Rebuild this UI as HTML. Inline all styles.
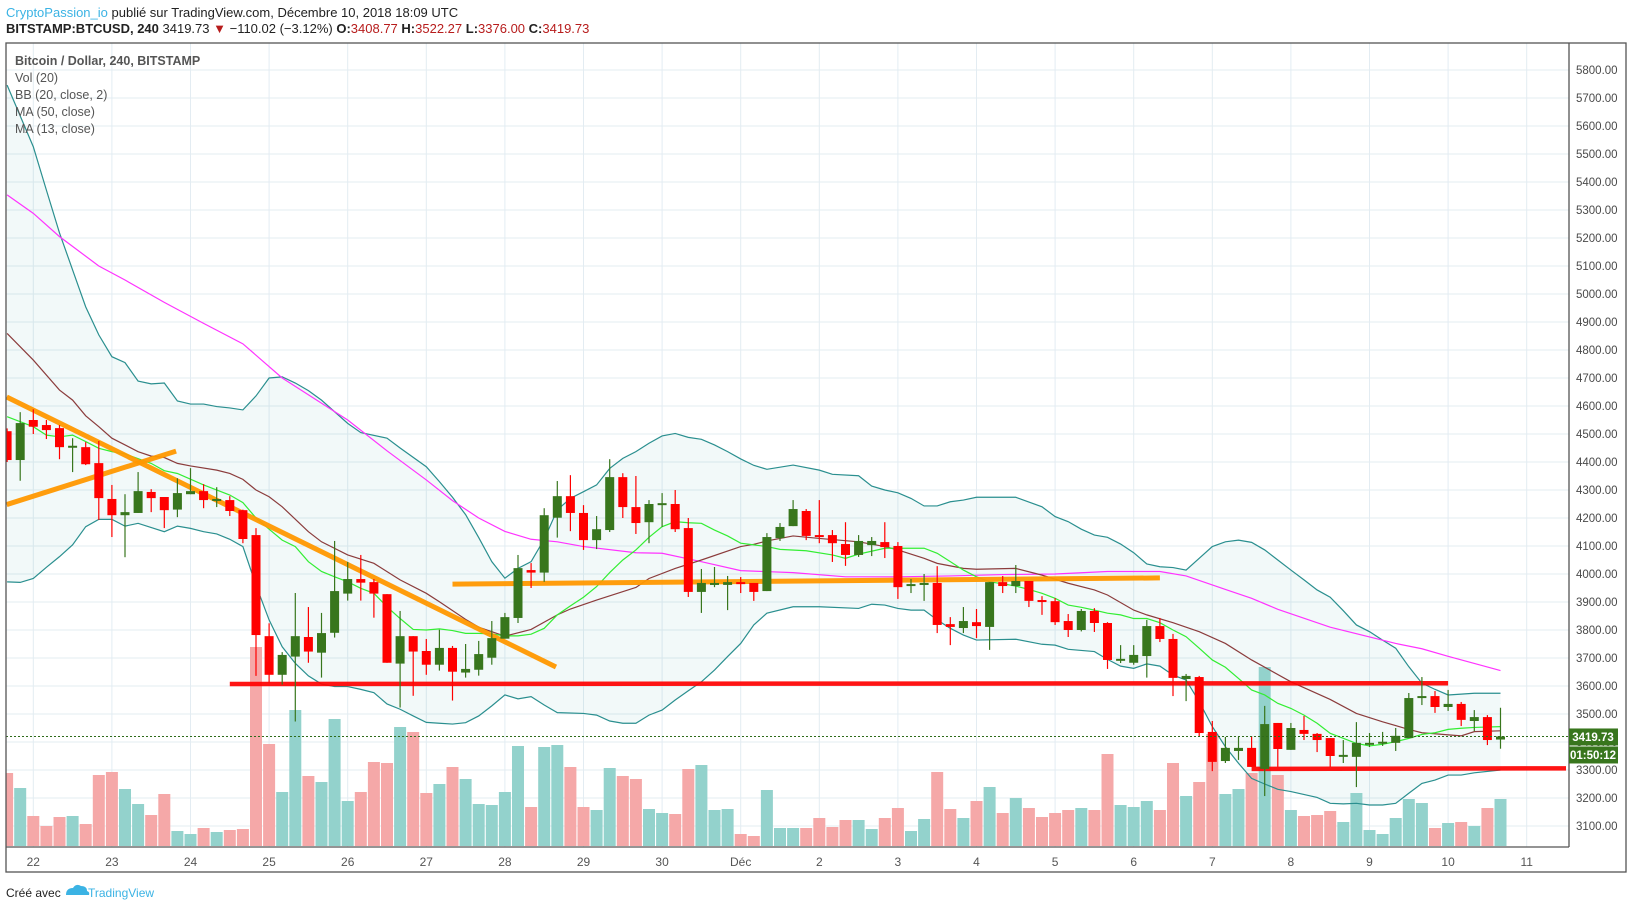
<!DOCTYPE html>
<html><head><meta charset="utf-8">
<style>
html,body{margin:0;padding:0;background:#fff;}
body{width:1627px;height:909px;overflow:hidden;position:relative;font-family:"Liberation Sans",sans-serif;}
.hdr{position:absolute;left:6px;font-size:13px;color:#222;white-space:nowrap;}
.red{color:#b71c1c;}
svg text{font-family:"Liberation Sans",sans-serif;}
</style></head>
<body>
<div class="hdr" style="top:5px"><span style="color:#3bb3e4">CryptoPassion_io</span> publié sur TradingView.com, Décembre 10, 2018 18:09 UTC</div>
<div class="hdr" style="top:21px"><b>BITSTAMP:BTCUSD, 240</b> 3419.73 <span style="color:#b71c1c">▼</span> −110.02 (−3.12%) <b>O:</b><span class="red">3408.77</span> <b>H:</b><span class="red">3522.27</span> <b>L:</b><span class="red">3376.00</span> <b>C:</b><span class="red">3419.73</span></div>

<svg id="chart" width="1627" height="909" style="position:absolute;left:0;top:0">
<defs><clipPath id="plotclip"><rect x="6" y="43" width="1563" height="804"/></clipPath></defs>
<g id="grid"></g>
<g id="plot" clip-path="url(#plotclip)"></g>
<rect x="6" y="43" width="1620" height="829" fill="none" stroke="#555" stroke-width="1.3"/>
<line x1="1569" y1="43" x2="1569" y2="847" stroke="#555" stroke-width="1.3"/>
<line x1="6" y1="847" x2="1569" y2="847" stroke="#555" stroke-width="1.3"/>
<g id="axes"></g>
<g font-size="12.5" fill="#555">
<text x="15" y="65" font-weight="bold">Bitcoin / Dollar, 240, BITSTAMP</text>
<text x="15" y="82">Vol (20)</text>
<text x="15" y="99">BB (20, close, 2)</text>
<text x="15" y="116">MA (50, close)</text>
<text x="15" y="133">MA (13, close)</text>
</g>
<g>
<text x="6" y="897" font-size="12" fill="#222">Créé avec</text>
<path d="M66 895 q0-7 7-7 q3-5 8-2 q6 0 6 5 q3 1 2 4 z" fill="#3bb3e4"/>
<text x="88" y="897" font-size="12" fill="#3bb3e4">TradingView</text>
</g>
</svg>

<script>
const startK = -2;
const opens = [4510,4407,4550,4532,4521,4455,4453,4396,4268,4210,4218,4293,4275,4230,4285,4296,4264,4264,4228,4139,3778,3640,3705,3775,3719,3790,3930,3982,3971,3928,3680,3778,3725,3676,3736,3648,3658,3701,3769,3843,4014,4005,4201,4278,4218,4121,4157,4346,4239,4185,4246,4250,4164,3936,3966,3961,3971,3968,3939,4128,4171,4225,4139,4139,4107,4068,4103,4114,4100,3957,3964,3968,3821,3807,3828,3811,3971,3957,3975,3907,3903,3832,3800,3868,3825,3691,3683,3707,3814,3768,3625,3632,3436,3332,3368,3379,3304,3468,3372,3443,3429,3414,3350,3347,3394,3397,3397,3414,3557,3564,3525,3536,3475,3489,3408.77];
const highs = [4520,4578,4588,4550,4532,4485,4471,4475,4318,4285,4364,4303,4275,4342,4378,4321,4310,4278,4230,4164,3824,3721,3932,3882,3861,4118,4043,4068,3982,3928,3868,3778,3768,3801,3743,3750,3761,3832,3861,4068,4039,4235,4332,4353,4246,4207,4410,4360,4350,4264,4289,4300,4200,4018,4025,3993,3989,3968,4146,4182,4264,4232,4264,4157,4185,4139,4132,4185,4114,3982,4000,4028,3846,3882,3875,3971,3993,4032,3975,3921,3914,3857,3875,3878,3828,3746,3746,3836,3843,3786,3643,3636,3475,3418,3418,3421,3529,3468,3468,3493,3432,3414,3407,3471,3432,3436,3450,3575,3632,3582,3586,3543,3514,3496,3522.27];
const lows = [4400,4333,4500,4482,4410,4364,4389,4193,4132,4060,4218,4221,4164,4203,4285,4235,4239,4207,4110,3636,3612,3605,3473,3683,3630,3773,3905,3905,3844,3683,3523,3565,3640,3655,3548,3630,3637,3676,3769,3825,3950,3972,4130,4153,4086,4089,4150,4200,4143,4110,4168,4150,3918,3861,3953,3871,3932,3904,3939,4118,4171,4121,4110,4043,4029,4061,4064,4057,3911,3932,3904,3789,3746,3789,3771,3729,3932,3932,3882,3854,3818,3775,3795,3793,3661,3682,3676,3630,3757,3564,3546,3418,3296,3325,3336,3311,3207,3311,3372,3407,3364,3311,3325,3239,3382,3386,3368,3414,3532,3504,3511,3457,3439,3389,3376];
const closes = [4407,4539,4526,4514,4453,4458,4392,4271,4210,4221,4296,4271,4228,4289,4296,4264,4268,4225,4125,3782,3640,3711,3778,3723,3789,3939,3982,3969,3930,3683,3778,3723,3676,3736,3651,3661,3714,3771,3846,4021,4005,4210,4278,4218,4121,4160,4346,4239,4182,4250,4253,4160,3936,3968,3968,3971,3964,3936,4132,4168,4232,4136,4136,4110,4068,4118,4118,4096,3953,3964,3968,3818,3811,3832,3814,3971,3957,3975,3904,3900,3828,3800,3868,3825,3693,3697,3711,3814,3768,3629,3636,3432,3329,3379,3379,3311,3464,3375,3450,3429,3407,3350,3354,3397,3397,3401,3422,3557,3564,3525,3536,3479,3489,3407,3419.73];
const volumes = [73,58,30,20,29,30,22,71,74,57,42,31,52,15,12,18,14,16,17,199,102,54,136,70,64,127,45,54,84,83,119,114,53,62,79,67,42,41,54,100,39,99,101,79,39,36,78,70,67,37,33,32,77,81,36,37,12,10,56,18,18,18,28,19,26,26,17,28,38,15,27,74,37,28,45,59,33,48,38,29,33,36,38,36,92,41,39,45,36,83,50,64,112,52,57,73,179,71,36,30,31,35,24,53,16,12,28,47,43,18,23,24,20,38,47];
const bbUpper = [[-2,5746],[0,5526],[1,5371],[2,5218],[3,5086],[4,4954],[5,4854],[6,4776],[7,4755],[8,4689],[9,4679],[10,4682],[11,4618],[12,4607],[13,4607],[14,4598],[15,4593],[16,4586],[17,4636],[18,4700],[19,4704],[20,4682],[21,4655],[22,4621],[24,4538],[25,4505],[27,4485],[28,4450],[30,4383],[31,4330],[32,4274],[33,4212],[34,4130],[35,4044],[36,3985],[37,4020],[38,4044],[39,4124],[40,4229],[41,4270],[42,4294],[43,4318],[44,4377],[45,4413],[46,4437],[47,4467],[48,4493],[49,4502],[50,4488],[51,4481],[52,4461],[53,4437],[54,4411],[55,4388],[56,4374],[58,4389],[60,4371],[61,4356],[63,4351],[64,4314],[65,4300],[66,4290],[67,4270],[68,4243],[69,4243],[70,4258],[71,4264],[72,4274],[75,4274],[77,4240],[78,4205],[79,4187],[80,4160],[81,4139],[82,4131],[83,4107],[84,4076],[85,4036],[86,4026],[87,4023],[88,4014],[89,4056],[90,4098],[91,4115],[92,4121],[93,4113],[94,4086],[95,4050],[96,4014],[97,3979],[98,3943],[99,3917],[100,3869],[101,3818],[102,3794],[103,3764],[104,3735],[105,3669],[106,3610],[107,3588],[108,3568],[109,3571],[110,3574],[112,3574]];
const bbLower = [[-2,3972],[-1,3970],[0,3984],[1,4024],[2,4062],[3,4104],[4,4169],[5,4195],[6,4195],[7,4171],[8,4181],[10,4151],[11,4171],[12,4163],[13,4151],[14,4143],[15,4124],[16,4098],[17,3960],[18,3836],[19,3740],[20,3681],[21,3636],[22,3607],[23,3598],[24,3598],[25,3588],[26,3576],[27,3536],[28,3517],[29,3493],[30,3470],[31,3467],[32,3464],[33,3469],[34,3493],[35,3529],[36,3568],[37,3554],[38,3562],[39,3532],[40,3505],[42,3502],[43,3496],[44,3475],[45,3467],[46,3467],[47,3496],[48,3514],[49,3550],[50,3583],[51,3615],[52,3657],[53,3705],[54,3752],[55,3818],[56,3860],[58,3883],[60,3883],[63,3877],[64,3892],[65,3889],[66,3877],[67,3871],[68,3871],[69,3836],[70,3806],[71,3782],[72,3764],[75,3767],[77,3749],[78,3746],[79,3731],[81,3723],[82,3695],[83,3671],[84,3663],[85,3679],[86,3671],[87,3639],[88,3621],[89,3544],[90,3455],[91,3383],[92,3324],[93,3270],[94,3250],[95,3231],[96,3223],[98,3202],[99,3181],[100,3179],[101,3181],[102,3175],[103,3175],[104,3181],[105,3217],[106,3252],[107,3264],[108,3282],[109,3282],[110,3290],[112,3300]];
const bbBasis = [[-2,4859],[0,4764],[2,4657],[3,4621],[4,4565],[5,4526],[6,4485],[8,4437],[9,4421],[10,4416],[11,4395],[12,4386],[14,4371],[15,4359],[16,4338],[17,4300],[18,4276],[19,4240],[21,4151],[22,4115],[24,4068],[26,4038],[28,3979],[30,3931],[31,3901],[33,3838],[34,3810],[36,3778],[38,3802],[40,3854],[41,3875],[43,3907],[46,3952],[47,3984],[49,4020],[51,4050],[54,4098],[55,4106],[56,4118],[58,4136],[60,4127],[63,4115],[65,4098],[66,4086],[68,4056],[69,4038],[71,4020],[72,4017],[75,4020],[77,3996],[79,3967],[81,3943],[82,3925],[84,3871],[85,3854],[87,3826],[89,3794],[91,3752],[93,3693],[96,3615],[99,3552],[101,3502],[103,3472],[105,3445],[106,3433],[109,3422],[110,3437],[112,3440]];
const ma50 = [[-2,5354],[0,5288],[2,5205],[5,5100],[7,5050],[10,4970],[13,4895],[16,4822],[19,4700],[24,4550],[27,4440],[30,4336],[32,4262],[34,4200],[36,4152],[38,4124],[40,4115],[42,4098],[46,4076],[48,4074],[51,4044],[54,4012],[58,4005],[62,3990],[66,3990],[70,3993],[74,3998],[78,4000],[82,4009],[86,4009],[88,3993],[91,3945],[93,3913],[95,3874],[99,3810],[104,3752],[106,3733],[108,3706],[112,3655]];
const ma13 = [[-2,4562],[0,4526],[1,4496],[2,4490],[3,4496],[4,4473],[5,4449],[6,4437],[7,4429],[9,4395],[10,4369],[11,4359],[13,4318],[15,4282],[16,4255],[17,4200],[18,4160],[19,4121],[20,4098],[21,4044],[22,4009],[23,3990],[24,3972],[25,3949],[26,3931],[27,3883],[28,3841],[29,3802],[30,3800],[31,3804],[32,3798],[33,3788],[34,3788],[35,3786],[36,3779],[37,3779],[38,3785],[39,3806],[40,3854],[41,3886],[42,3917],[43,3955],[44,4005],[45,4050],[46,4086],[47,4131],[48,4169],[49,4187],[50,4183],[51,4181],[52,4157],[53,4136],[54,4110],[55,4104],[56,4098],[57,4088],[59,4083],[61,4068],[62,4056],[63,4071],[65,4092],[68,4092],[69,4074],[70,4044],[71,4014],[72,3990],[73,3972],[74,3965],[75,3957],[76,3945],[77,3931],[78,3913],[79,3889],[80,3881],[81,3871],[82,3860],[83,3854],[84,3841],[85,3841],[86,3826],[87,3800],[88,3776],[89,3735],[90,3693],[91,3667],[92,3627],[93,3586],[94,3568],[95,3538],[96,3520],[97,3496],[98,3467],[99,3431],[100,3413],[101,3395],[102,3386],[103,3392],[104,3401],[105,3413],[106,3427],[107,3433],[108,3445],[109,3449],[110,3452],[112,3455]];
const priceTicks = [5800,5700,5600,5500,5400,5300,5200,5100,5000,4900,4800,4700,4600,4500,4400,4300,4200,4100,4000,3900,3800,3700,3600,3500,3400,3300,3200,3100];
const dayLabels = ["22","23","24","25","26","27","28","29","30","Déc","2","3","4","5","6","7","8","9","10","11"];
const lastPrice = 3419.73;
const countdown = "01:50:12";
// trendlines as [k1,price1,k2,price2]
const orangeLines = [[-2.03,4632,39.9,3668],[-2.03,4248,10.9,4439],[32.0,3964,86.0,3986]];
const redLines = [[15.0,3607,108.0,3610],[93.0,3304,117.0,3306]];

const NS = "http://www.w3.org/2000/svg";
const x = k => 33.3 + 13.1 * k;
const y = p => 686 + (3600 - p) * 0.28;
const volBase = 846, volScale = 1;
function mk(tag, attrs, parent){ const e=document.createElementNS(NS,tag); for(const a in attrs) e.setAttribute(a,attrs[a]); parent.appendChild(e); return e; }
const grid = document.getElementById('grid'), plot = document.getElementById('plot'), axes = document.getElementById('axes');

priceTicks.forEach(p=>{
  const l = mk('line',{x1:6,x2:1569,y1:y(p),y2:y(p),stroke:'#e3ecf2','stroke-width':1},grid);
  
  
  const t = mk('text',{x:1576,y:y(p)+4,'font-size':11.5,fill:'#4a4a4a'},axes);
  t.textContent = p.toFixed(2);
  
  
});
dayLabels.forEach((d,i)=>{
  const xx = x(i*6);
  const l = mk('line',{x1:xx,x2:xx,y1:43,y2:847,stroke:'#e3ecf2','stroke-width':1},grid);
  
  
  const t = mk('text',{x:xx,y:866,'font-size':12,fill:'#555','text-anchor':'middle'},axes);
  t.textContent = d;
  
  
});

// Bollinger fill
function interp(arr,k){ for(let i=0;i<arr.length-1;i++){ if(k>=arr[i][0]&&k<=arr[i+1][0]){ const f=(k-arr[i][0])/(arr[i+1][0]-arr[i][0]); return arr[i][1]+f*(arr[i+1][1]-arr[i][1]); } } return arr[arr.length-1][1]; }
const up = bbUpper.map(p=>x(p[0])+','+y(p[1])).join(' ');
const lo = bbLower.slice().reverse().map(p=>x(p[0])+','+y(p[1])).join(' ');
const fill = mk('polygon',{points:up+' '+lo,fill:'rgba(0,128,128,0.05)'},plot);



// volumes
volumes.forEach((v,i)=>{
  const k = startK+i;
  const upc = closes[i]>=opens[i];
  const r = mk('rect',{x:x(k)-6,y:volBase-v*volScale,width:12,height:v*volScale,fill:upc?'#93d2cc':'#f5a8a8'},plot);
  
  
});

function line(arr,color,w,name){
  const pl = mk('polyline',{points:arr.map(p=>x(p[0])+','+y(p[1])).join(' '),fill:'none',stroke:color,'stroke-width':w},plot);
  
  
}
line(bbUpper,'#2a8f8f',1.2,'bb-upper-line');
line(bbLower,'#2a8f8f',1.2,'bb-lower-line');
line(ma50,'#ff33ff',1.2,'ma50-line');
line(bbBasis,'#8b3c3c',1.2,'bb-basis-line');
line(ma13,'#33ee33',1.2,'ma13-line');

orangeLines.forEach(L=>{
  const e = mk('line',{x1:x(L[0]),y1:y(L[1]),x2:x(L[2]),y2:y(L[3]),stroke:'#ff9800','stroke-width':5,'stroke-opacity':0.95},plot);
  
  
});
redLines.forEach(L=>{
  const e = mk('line',{x1:x(L[0]),y1:y(L[1]),x2:x(L[2]),y2:y(L[3]),stroke:'#ff0000','stroke-width':4.5,'stroke-opacity':0.92},plot);
  
  
});

// candles
opens.forEach((o,i)=>{
  const k = startK+i, c = closes[i];
  const col = c>=o ? '#38761d' : '#ff0000';
  const g = mk('g',{},plot);
  
  
  mk('line',{x1:x(k),x2:x(k),y1:y(highs[i]),y2:y(lows[i]),stroke:col,'stroke-width':1.2},g);
  const top = y(Math.max(o,c)), h = Math.max(2, Math.abs(y(o)-y(c)));
  mk('rect',{x:x(k)-4.5,y:top,width:9,height:h,fill:col},g);
});

const pl = mk('line',{x1:6,x2:1569,y1:y(lastPrice),y2:y(lastPrice),stroke:'#2e6b1a','stroke-width':1,'stroke-dasharray':'2,2'},plot);



const b1 = mk('rect',{x:1569,y:y(lastPrice)-8,width:49,height:17,fill:'#38761d'},axes);


const t1 = mk('text',{x:1593,y:y(lastPrice)+4.5,'font-size':11.5,fill:'#fff','text-anchor':'middle','font-weight':'bold'},axes);
t1.textContent = lastPrice.toFixed(2);


const b2 = mk('rect',{x:1569,y:y(lastPrice)+10,width:49,height:17,fill:'#38761d'},axes);


const t2 = mk('text',{x:1593,y:y(lastPrice)+22.5,'font-size':11.5,fill:'#fff','text-anchor':'middle','font-weight':'bold'},axes);
t2.textContent = countdown;


</script>
</body></html>
